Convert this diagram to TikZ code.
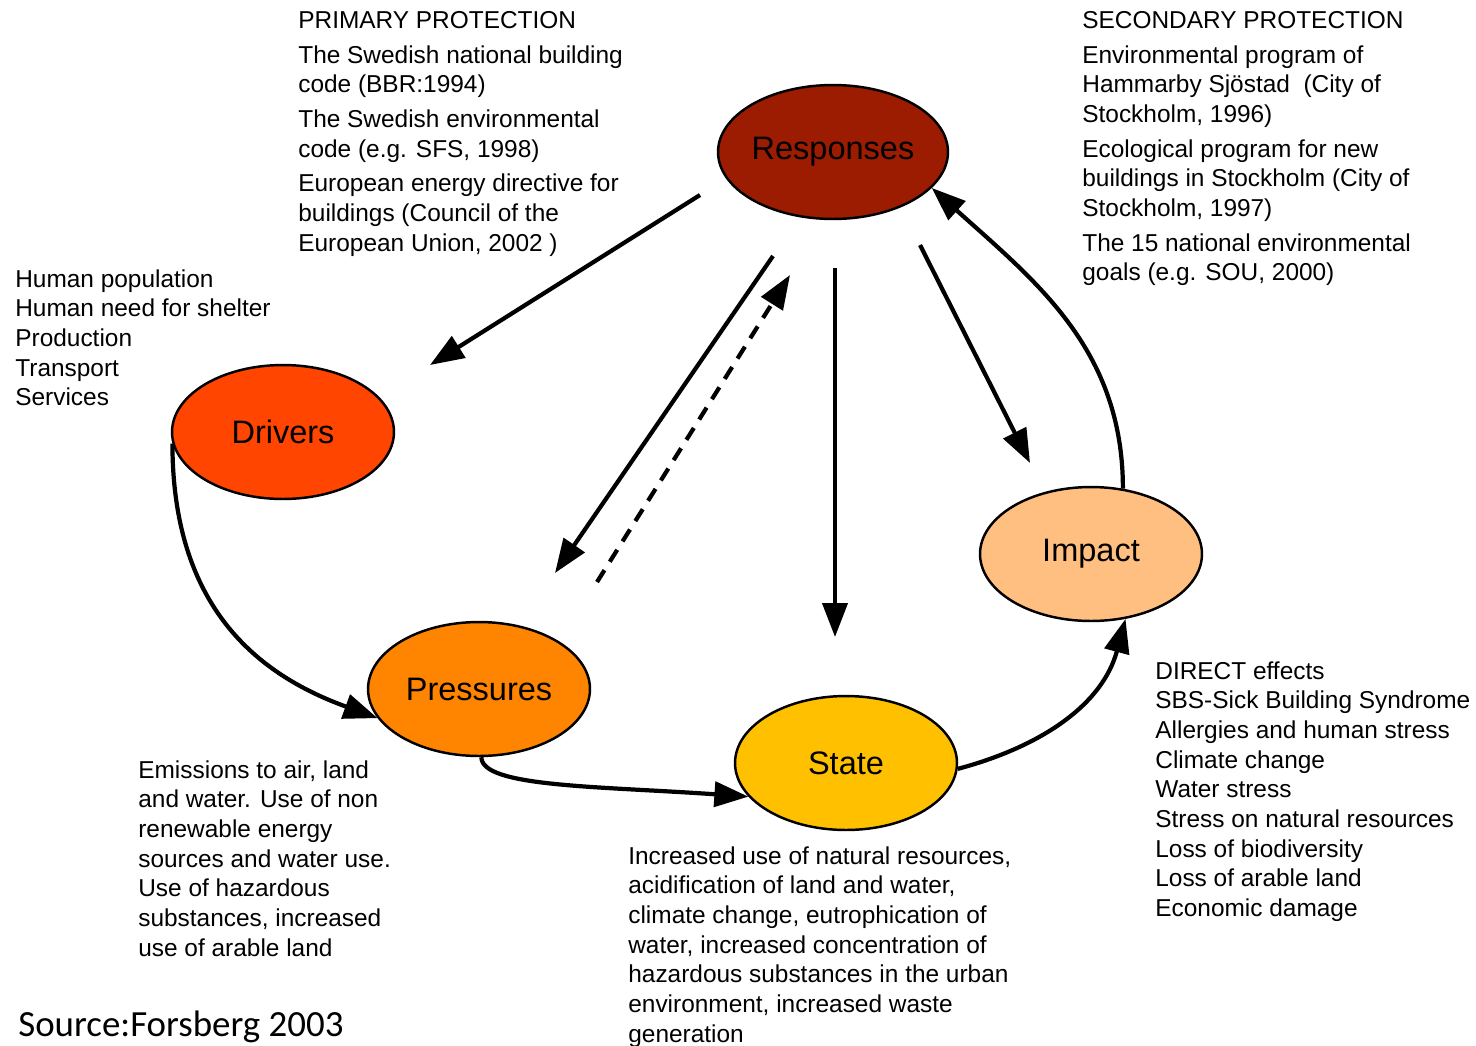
\documentclass[tikz,border=0pt]{standalone}
\usepackage{fontspec}
\setmainfont{Liberation Sans}
\newfontfamily\srcfont{Carlito}
\usetikzlibrary{shapes.geometric,arrows.meta}

\definecolor{respred}{HTML}{9B1C00}
\definecolor{drvred}{HTML}{FF4500}
\definecolor{presorange}{HTML}{FF8400}
\definecolor{stateyellow}{HTML}{FFC000}
\definecolor{imppeach}{HTML}{FFBF80}

\tikzset{
    dpsir/.style={ellipse,draw=black,line width=1.4pt,minimum width=4.44cm,minimum height=2.68cm,inner sep=0pt,font=\fontsize{18.5}{22}\selectfont},
    notes/.style={anchor=north west,align=left,inner sep=0pt,font=\fontsize{13.9}{16.9}\selectfont},
    flow/.style={line width=2.4pt,-{Triangle[length=0.68cm,width=0.5cm]}},
}

\begin{document}
\begin{tikzpicture}[x=0.02cm,y=-0.02cm]
    \useasboundingbox (0,0) rectangle (1476,1045);

    \node[dpsir,fill=respred](resp)at(833,152){Responses};
    \node[dpsir,fill=drvred](drv)at(283,432){Drivers};
    \node[dpsir,fill=presorange](pres)at(479,689){Pressures};
    \node[dpsir,fill=stateyellow](state)at(846,763){State};
    \node[dpsir,fill=imppeach](imp)at(1091,554){Impact};

    \node[notes](primary)at(298,11){PRIMARY PROTECTION\\[0.1cm]
        The Swedish national building\\code (BBR:1994)\\[0.1cm]
        The Swedish environmental\\code (e.g. SFS, 1998)\\[0.1cm]
        European energy directive for\\buildings (Council of the\\European Union, 2002 )};
    \node[notes](secondary)at(1082,11){SECONDARY PROTECTION\\[0.1cm]
        Environmental program of\\Hammarby Sjöstad\ \ (City of\\Stockholm, 1996)\\[0.1cm]
        Ecological program for new\\buildings in Stockholm (City of\\Stockholm, 1997)\\[0.1cm]
        The 15 national environmental\\goals (e.g. SOU, 2000)};
    \node[notes](drvtext)at(15,269){Human population\\Human need for shelter\\Production\\Transport\\Services};
    \node[notes](prestext)at(138,760){Emissions to air, land\\and water. Use of non\\renewable energy\\sources and water use.\\Use of hazardous\\substances, increased\\use of arable land};
    \node[notes](statetext)at(628,846){Increased use of natural resources,\\acidification of land and water,\\climate change, eutrophication of\\water, increased concentration of\\hazardous substances in the urban\\environment, increased waste\\generation};
    \node[notes](imptext)at(1155,661){DIRECT effects\\SBS-Sick Building Syndrome\\Allergies and human stress\\Climate change\\Water stress\\Stress on natural resources\\Loss of biodiversity\\Loss of arable land\\Economic damage};
    \node[anchor=north west,inner sep=0pt,font=\srcfont\fontsize{21}{25}\selectfont](source)at(18,1011){Source:Forsberg 2003};

    % responses feed back on the chain
    \coordinate(rd1)at(700,195);
    \coordinate(rd2)at(430,365);
    \draw[flow](rd1)--(rd2);

    \coordinate(rp1)at(773,256);
    \coordinate(rp2)at(555,573);
    \draw[flow](rp1)--(rp2);

    \coordinate(pr1)at(597,582);
    \coordinate(pr2)at(790,275);
    \draw[flow,dash pattern=on 0.28cm off 0.2cm](pr1)--(pr2);

    \coordinate(rs1)at(835,268);
    \coordinate(rs2)at(835,637);
    \draw[flow](rs1)--(rs2);

    \coordinate(ri1)at(920,245);
    \coordinate(ri2)at(1030,463);
    \draw[flow](ri1)--(ri2);

    % the causal chain
    \draw[flow](drv.186)to[out=-90,in=160,out distance=3.4cm,in distance=2.4cm](pres.196);
    \draw[flow](pres.-88)to[out=-90,in=176,out distance=0.6cm,in distance=3cm](state.199);
    \draw[flow](state.-3)to[out=15,in=-105](imp.-62);
    \draw[flow](imp.64)to[out=90,in=-42](resp.-20);
\end{tikzpicture}
\end{document}
